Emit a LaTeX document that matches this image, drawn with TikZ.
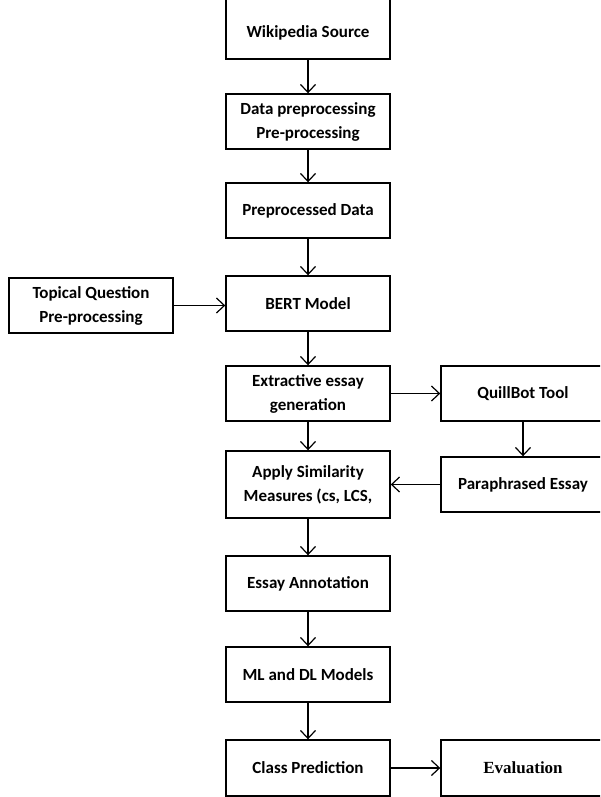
\documentclass[tikz,border=0pt]{standalone}
\usepackage{fontspec}
\setmainfont{Carlito}
\newfontfamily\evalfont{Liberation Serif}
\usetikzlibrary{arrows.meta}

\begin{document}
\begin{tikzpicture}[x=1pt, y=-1pt, >={Straight Barb[length=8pt,width=15pt]},
    box/.style={draw, line width=1.4pt, minimum width=164pt, minimum height=55pt,
        align=center, font=\fontsize{17}{24}\selectfont\bfseries},
    flow/.style={->, line width=1.2pt}]
    \clip (0,0) rectangle (600,797);

    % 主流程
    \node[box, minimum height=70pt, text height=31pt, text depth=4pt] (wiki) at (308,24) {Wikipedia Source};
    \node[box] (data) at (308,121.5) {Data preprocessing\\Pre-processing};
    \node[box] (prep) at (308,210.5) {Preprocessed Data};
    \node[box] (bert) at (308,303.5) {BERT Model};
    \node[box] (extract) at (308,393.5) {Extractive essay\\generation};
    \node[box, minimum height=67pt] (apply) at (308,484.5) {Apply Similarity\\Measures (cs, LCS,};
    \node[box] (annot) at (308,583.5) {Essay Annotation};
    \node[box] (mldl) at (308,674.5) {ML and DL Models};
    \node[box, minimum height=56pt] (classp) at (308,768) {Class Prediction};

    % 问题输入
    \node[box] (topic) at (91,305.5) {Topical Question\\Pre-processing};

    % 改写分支
    \node[box] (quill) at (523,393.5) {QuillBot Tool};
    \node[box] (para) at (523,484.5) {Paraphrased Essay};
    \node[box, minimum height=56pt, font=\fontsize{17}{20}\evalfont\bfseries] (eval) at (523,768) {Evaluation};

    % 连线
    \draw[flow] (wiki) -- (data);
    \draw[flow] (data) -- (prep);
    \draw[flow] (prep) -- (bert);
    \draw[flow] (topic.east) -- (topic.east -| bert.west);
    \draw[flow] (bert) -- (extract);
    \draw[flow] (extract) -- (quill);
    \draw[flow] (quill) -- (para);
    \draw[flow] (para) -- (apply);
    \draw[flow] (extract) -- (apply);
    \draw[flow] (apply) -- (annot);
    \draw[flow] (annot) -- (mldl);
    \draw[flow] (mldl) -- (classp);
    \draw[flow] (classp) -- (eval);
\end{tikzpicture}
\end{document}
